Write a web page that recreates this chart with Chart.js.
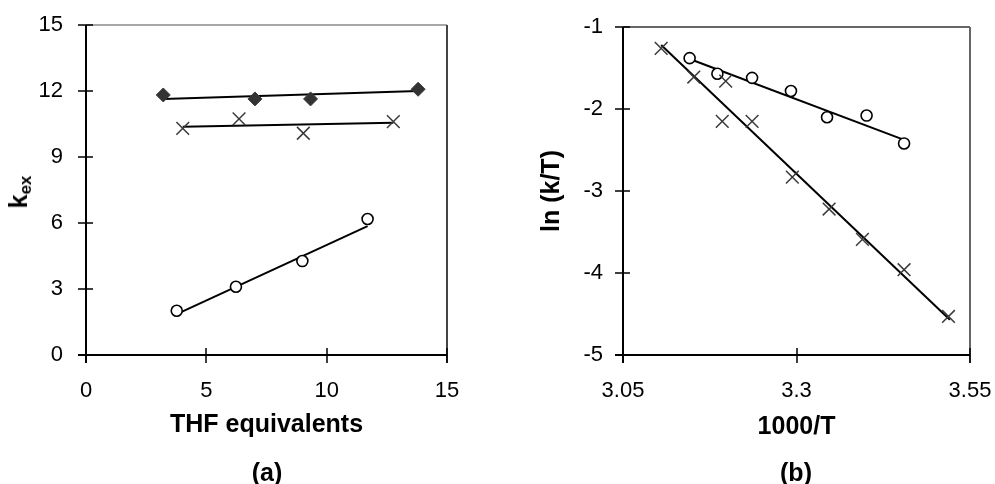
<!DOCTYPE html>
<html>
<head>
<meta charset="utf-8">
<script src="https://cdn.jsdelivr.net/npm/chart.js@4.4.1/dist/chart.umd.min.js"></script>
<style>
  html, body { margin: 0; padding: 0; background: #fff; }
  #wrap { position: relative; width: 995px; height: 484px; overflow: hidden; font-family: "Liberation Sans", Arial, sans-serif; }
  .box { position: absolute; top: 0; height: 484px; }
  .lbl { position: absolute; font-weight: bold; font-size: 25px; color: #000; white-space: nowrap; }
  #kex { left: 20px; top: 192px; transform: translate(-50%, -50%) rotate(-90deg); }
  #kex sub { font-size: 17px; vertical-align: -4px; }
</style>
</head>
<body>
<div id="wrap">
  <div class="box" style="left:0;width:497px"><canvas id="chartA" width="497" height="484"></canvas></div>
  <div class="box" style="left:497px;width:498px"><canvas id="chartB" width="498" height="484"></canvas></div>
  <div class="lbl" id="kex">k<sub>ex</sub></div>
  <div class="lbl" style="left:267px;top:472px;transform:translate(-50%,-50%)">(a)</div>
  <div class="lbl" style="left:796px;top:472px;transform:translate(-50%,-50%)">(b)</div>
</div>
<script>
// (a) kex vs THF equivalents
const thfDiamondX = [3.21, 7.02, 9.33, 13.8];
const thfDiamondY = [11.82, 11.64, 11.64, 12.08];
const thfCrossX = [4.02, 6.36, 9.03, 12.77];
const thfCrossY = [10.30, 10.73, 10.08, 10.61];
const thfCircleX = [3.77, 6.23, 8.99, 11.70];
const thfCircleY = [2.01, 3.10, 4.27, 6.18];
// trend lines of (a), end points
const fitDiamondX = [3.21, 13.8];
const fitDiamondY = [11.64, 12.0];
const fitCrossX = [4.02, 12.77];
const fitCrossY = [10.38, 10.56];
const fitCircleX = [3.77, 11.70];
const fitCircleY = [1.86, 5.86];
const ticksAX = [0, 5, 10, 15];
const ticksAY = [0, 3, 6, 9, 12, 15];

// (b) ln(k/T) vs 1000/T
const arrCrossX = [3.105, 3.152, 3.198, 3.193, 3.236, 3.294, 3.347, 3.395, 3.455, 3.519];
const arrCrossY = [-1.26, -1.61, -1.66, -2.15, -2.15, -2.83, -3.22, -3.59, -3.96, -4.53];
const arrCircleX = [3.146, 3.186, 3.236, 3.292, 3.344, 3.401, 3.455];
const arrCircleY = [-1.38, -1.57, -1.62, -1.78, -2.10, -2.08, -2.42];
const fitArrCrossX = [3.105, 3.521];
const fitArrCrossY = [-1.22, -4.57];
const fitArrCircleX = [3.149, 3.456];
const fitArrCircleY = [-1.40, -2.38];
const ticksBX = [3.05, 3.3, 3.55];
const ticksBY = [-5, -4, -3, -2, -1];

Chart.defaults.font.family = '"Liberation Sans", Arial, sans-serif';
Chart.defaults.color = '#000';

function pts(xs, ys) {
    return xs.map((x, i) => ({x: x, y: ys[i]}));
}

function markers(xs, ys, style) {
    const ds = {data: pts(xs, ys), showLine: false, pointBorderColor: '#3a3a3a', pointHoverRadius: 0};
    if (style === 'diamond') {
        ds.pointStyle = 'rectRot';
        ds.pointRadius = 7;
        ds.pointBackgroundColor = '#333';
        ds.pointBorderWidth = 1;
    } else if (style === 'cross') {
        ds.pointStyle = 'crossRot';
        ds.pointRadius = 9;
        ds.pointBorderWidth = 1.5;
    } else {
        ds.pointStyle = 'circle';
        ds.pointRadius = 5.5;
        ds.pointBackgroundColor = '#fff';
        ds.pointBorderColor = '#000';
        ds.pointBorderWidth = 1.6;
    }
    return ds;
}

function fitLine(xs, ys) {
    return {data: pts(xs, ys), showLine: true, pointRadius: 0, borderColor: '#000', borderWidth: 2, order: 1};
}

// axes frame with ticks crossing the axis lines
const framePlugin = {
    id: 'frame',
    afterDraw(chart, args, opts) {
        const {ctx, chartArea: a, scales} = chart;
        ctx.save();
        ctx.lineCap = 'butt';
        ctx.lineWidth = 1.5;
        ctx.strokeStyle = opts.topColor;
        ctx.beginPath(); ctx.moveTo(a.left, a.top); ctx.lineTo(a.right, a.top); ctx.stroke();
        ctx.strokeStyle = opts.rightColor;
        ctx.lineWidth = 2;
        ctx.beginPath(); ctx.moveTo(a.right, a.top); ctx.lineTo(a.right, a.bottom + 8); ctx.stroke();
        ctx.strokeStyle = '#000';
        ctx.beginPath();
        ctx.moveTo(a.left, a.top); ctx.lineTo(a.left, a.bottom + 8);
        ctx.moveTo(a.left - 8, a.bottom); ctx.lineTo(a.right, a.bottom);
        ctx.stroke();
        ctx.lineWidth = 1.5;
        ctx.beginPath();
        scales.y.ticks.forEach(t => {
            const py = Math.round(scales.y.getPixelForValue(t.value));
            ctx.moveTo(a.left - 8, py); ctx.lineTo(a.left + 7, py);
        });
        scales.x.ticks.forEach(t => {
            const px = Math.round(scales.x.getPixelForValue(t.value));
            ctx.moveTo(px, a.bottom - 7); ctx.lineTo(px, a.bottom + 8);
        });
        ctx.stroke();
        ctx.restore();
    }
};

function axes(xMin, xMax, xTicks, yMin, yMax, yTicks, yWidth, yPad, xTitle, xTitlePad, yTitle) {
    return {
        x: {
            type: 'linear', min: xMin, max: xMax,
            grid: {display: false, drawTicks: false},
            border: {display: false},
            afterBuildTicks: s => { s.ticks = xTicks.map(v => ({value: v})); },
            afterFit: s => { s.height = 129; s.paddingLeft = 0; s.paddingRight = 0; },
            ticks: {padding: 23, font: {size: 22}, callback: v => String(v)},
            title: {display: true, text: xTitle, font: {size: 25, weight: 'bold'}, padding: {top: 0, bottom: xTitlePad}}
        },
        y: {
            type: 'linear', min: yMin, max: yMax,
            grid: {display: false, drawTicks: false},
            border: {display: false},
            afterBuildTicks: s => { s.ticks = yTicks.map(v => ({value: v})); },
            afterFit: s => { s.width = yWidth; s.paddingTop = 0; s.paddingBottom = 0; },
            ticks: {padding: yPad, font: {size: 22}, callback: v => String(v)},
            title: yTitle ? {display: true, text: yTitle, font: {size: 25, weight: 'bold'}, padding: {top: 40, bottom: 0}} : {display: false}
        }
    };
}

new Chart(document.getElementById('chartA'), {
    type: 'scatter',
    data: {
        datasets: [
            fitLine(fitDiamondX, fitDiamondY),
            fitLine(fitCrossX, fitCrossY),
            fitLine(fitCircleX, fitCircleY),
            markers(thfDiamondX, thfDiamondY, 'diamond'),
            markers(thfCrossX, thfCrossY, 'cross'),
            markers(thfCircleX, thfCircleY, 'circle')
        ]
    },
    options: {
        responsive: false,
        animation: false,
        layout: {padding: {left: 0, top: 25, right: 50, bottom: 0}},
        plugins: {legend: {display: false}, tooltip: {enabled: false}, frame: {topColor: '#8a8a8a', rightColor: '#444'}},
        scales: axes(0, 15, ticksAX, 0, 15, ticksAY, 86, 23, 'THF equivalents', 44, null)
    },
    plugins: [framePlugin]
});

new Chart(document.getElementById('chartB'), {
    type: 'scatter',
    data: {
        datasets: [
            fitLine(fitArrCrossX, fitArrCrossY),
            fitLine(fitArrCircleX, fitArrCircleY),
            markers(arrCrossX, arrCrossY, 'cross'),
            markers(arrCircleX, arrCircleY, 'circle')
        ]
    },
    options: {
        responsive: false,
        animation: false,
        layout: {padding: {left: 0, top: 27, right: 25, bottom: 0}},
        plugins: {legend: {display: false}, tooltip: {enabled: false}, frame: {topColor: '#333', rightColor: '#666'}},
        scales: axes(3.05, 3.55, ticksBX, -5, -1, ticksBY, 126, 20, '1000/T', 42, 'ln (k/T)')
    },
    plugins: [framePlugin]
});
</script>
</body>
</html>
